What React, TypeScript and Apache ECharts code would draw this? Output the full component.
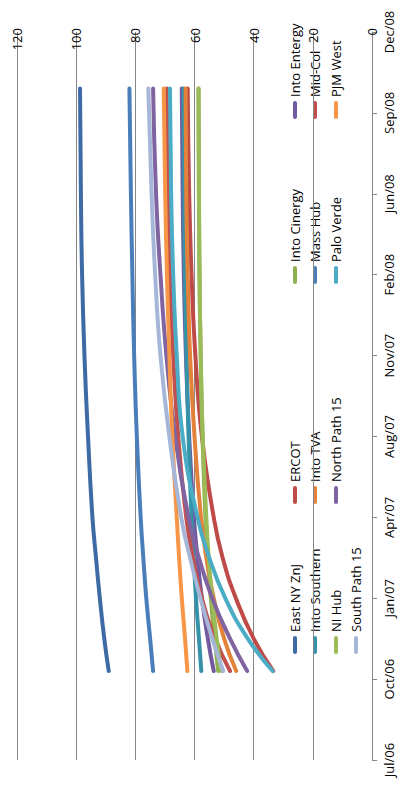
import React, { useRef, useEffect } from 'react';
import * as echarts from 'echarts';

// time positions in tick units (0 = Jul/06, 9 = Dec/08)
const timePoints = [1.1, 1.5, 2, 2.5, 3, 4, 5, 6, 7, 8.3];
const tickLabels = ['Jul/06', 'Oct/06', 'Jan/07', 'Apr/07', 'Aug/07', 'Nov/07', 'Feb/08', 'Jun/08', 'Sep/08', 'Dec/08'];

const seriesNames = [
  'East NY ZnJ', 'ERCOT', 'Into Cinergy', 'Into Entergy',
  'Into Southern', 'Into TVA', 'Mass Hub', 'Mid-Col',
  'NI Hub', 'North Path 15', 'Palo Verde', 'PJM West',
  'South Path 15',
];
const seriesColors = [
  '#3E6AA6', '#BE4B48', '#8FB04E', '#7359A0',
  '#3592A8', '#E3823A', '#4A7EBB', '#C0504D',
  '#9BBB59', '#8064A2', '#4BACC6', '#F79646',
  '#A5B6D8',
];

const eastNyZnj = [89, 90.5, 92, 93.3, 94.5, 96, 97.2, 98, 98.4, 98.7];
const ercot = [33.4, 40, 46, 50.5, 53.5, 57.5, 59.7, 61, 61.8, 62.3];
const intoCinergy = [52, 53.2, 54.5, 55.5, 56.3, 57.3, 57.9, 58.3, 58.5, 58.6];
const intoEntergy = [53.5, 55.5, 57.5, 59, 60.2, 61.8, 62.9, 63.6, 64, 64.3];
const intoSouthern = [57.7, 58.5, 59.5, 60.3, 61, 62, 62.7, 63.2, 63.5, 63.7];
const intoTva = [45.9, 50, 53.5, 56, 57.8, 60, 61.5, 62.3, 62.8, 63];
const massHub = [74, 75, 76.3, 77.3, 78.2, 79.5, 80.4, 81, 81.5, 82];
const midCol = [48, 53, 57.5, 60.5, 62.8, 65.5, 67.2, 68.3, 68.9, 69.3];
const niHub = [51, 52.5, 54, 55.2, 56, 57.2, 57.9, 58.3, 58.5, 58.7];
const northPath15 = [42.2, 48, 54, 58.5, 62, 66.5, 69.5, 71.5, 73, 74];
const paloVerde = [33.6, 42, 49.6, 55, 59, 64, 66, 67.2, 67.9, 68.3];
const pjmWest = [62.4, 63.2, 64.3, 65.2, 66, 67.5, 68.5, 69.3, 69.9, 70.4];
const southPath15 = [50.3, 54, 58, 61.5, 64.5, 68.5, 71.5, 73.3, 74.5, 75.6];

const seriesValues = [
  eastNyZnj, ercot, intoCinergy, intoEntergy,
  intoSouthern, intoTva, massHub, midCol,
  niHub, northPath15, paloVerde, pjmWest,
  southPath15,
];

const legendColOffsets = [0, 150, 370, 535];
const legendRowX = [295, 315, 336, 356];

const App: React.FC = () => {
  const chartRef = useRef<HTMLDivElement>(null);

  useEffect(() => {
    if (!chartRef.current) return;
    const chart = echarts.init(chartRef.current, undefined, { renderer: 'svg' });

    const legend = seriesNames.map((name, i) => ({
      type: 'group',
      x: legendRowX[Math.floor(i / 4)],
      y: 652 - legendColOffsets[i % 4],
      rotation: Math.PI / 2,
      children: [
        { type: 'line', shape: { x1: 0, y1: 0, x2: 14, y2: 0 }, style: { stroke: seriesColors[i], lineWidth: 4, lineCap: 'round' } },
        { type: 'text', x: 20, y: 0, style: { text: name, fill: '#000', font: '13px "Open Sans", sans-serif', textVerticalAlign: 'middle' } },
      ],
    }));

    chart.setOption({
      animation: false,
      grid: { left: 17, right: 37, top: 32, bottom: 34 },
      xAxis: {
        type: 'value',
        position: 'top',
        inverse: true,
        min: 0,
        max: 120,
        interval: 20,
        axisLine: { show: false },
        axisTick: { show: false },
        axisLabel: { rotate: 90, color: '#000', fontSize: 13, fontFamily: 'Open Sans', margin: 4, align: 'right', verticalAlign: 'middle' },
        splitLine: { lineStyle: { color: '#868686', width: 1 } },
      },
      yAxis: {
        type: 'value',
        position: 'right',
        min: 0,
        max: 9,
        interval: 1,
        axisLine: { show: true, lineStyle: { color: '#868686' } },
        axisTick: { show: true, length: 5, lineStyle: { color: '#868686' } },
        axisLabel: {
          rotate: 90,
          color: '#000',
          fontSize: 13,
          fontFamily: 'Open Sans',
          margin: 10,
          formatter: (v: number) => tickLabels[v] ?? '',
        },
        splitLine: { show: false },
      },
      series: seriesNames.map((name, i) => ({
        name,
        type: 'line',
        smooth: true,
        symbol: 'none',
        lineStyle: { color: seriesColors[i], width: 4, cap: 'round' },
        data: seriesValues[i].map((v, j) => [v, timePoints[j]]),
      })),
      graphic: legend,
    });

    return () => chart.dispose();
  }, []);

  return <div ref={chartRef} style={{ width: 409, height: 794, margin: -8 }} />;
};

export default App;
